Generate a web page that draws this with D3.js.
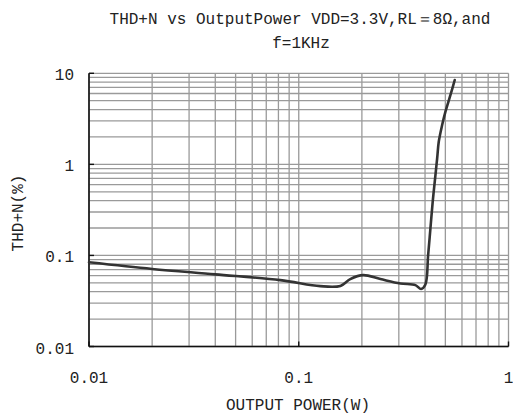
<!DOCTYPE html>
<html><head><meta charset="utf-8">
<script src="https://cdn.jsdelivr.net/npm/d3@7"></script>
<style>body{margin:0;background:#fff}svg{display:block}text{font-family:"Liberation Mono","DejaVu Sans Mono",monospace;fill:#222}</style>
</head><body>
<script>
const titleLines = ["THD+N vs OutputPower VDD=3.3V,RL＝8Ω,and", "f=1KHz"];
const xLabel = "OUTPUT POWER(W)";
const yLabel = "THD+N(%)";
const xTicks = [0.01, 0.1, 1];
const xTickLabels = ["0.01", "0.1", "1"];
const yTicks = [0.01, 0.1, 1, 10];
const yTickLabels = ["0.01", "0.1", "1", "10"];
const power = [0.01, 0.02, 0.04, 0.0816, 0.1266, 0.158, 0.176, 0.203, 0.245, 0.305, 0.36, 0.383, 0.4016, 0.4138, 0.4244, 0.4353, 0.4484, 0.4569, 0.465, 0.4826, 0.5005, 0.5288, 0.5542];
const thd   = [0.084, 0.071, 0.062, 0.0536, 0.046, 0.0463, 0.055, 0.0608, 0.055, 0.0492, 0.0472, 0.0428, 0.048, 0.1, 0.198, 0.392, 0.763, 1.16, 1.77, 2.70, 3.79, 5.78, 8.44];

const W = 513, H = 416;
const L = 89, R = 508.5, T = 73.3, B = 346.5;
const svg = d3.select("body").append("svg").attr("width", W).attr("height", H);
const x = d3.scaleLog().domain([0.01, 1]).range([L, R]);
const y = d3.scaleLog().domain([0.01, 10]).range([B, T]);

// grid
const xg = [], yg = [];
[0.01, 0.1].forEach(d => { for (let k = 1; k <= 9; k++) xg.push(d * k); });
xg.push(1);
[0.01, 0.1, 1].forEach(d => { for (let k = 1; k <= 9; k++) yg.push(d * k); });
yg.push(10);
const grid = svg.append("g").attr("stroke", "#9a9a9a").attr("stroke-width", 1.3);
grid.selectAll("line.h").data(yg).join("line").attr("class", "h")
  .attr("x1", L).attr("x2", R).attr("y1", d => y(d)).attr("y2", d => y(d));
grid.selectAll("line.v").data(xg).join("line").attr("class", "v")
  .attr("y1", T).attr("y2", B).attr("x1", d => x(d)).attr("x2", d => x(d));

// axes
svg.append("line").attr("x1", L).attr("x2", L).attr("y1", T).attr("y2", B).attr("stroke", "#111").attr("stroke-width", 1.6);
svg.append("line").attr("x1", L).attr("x2", R).attr("y1", B).attr("y2", B).attr("stroke", "#111").attr("stroke-width", 1.6);
svg.append("g").selectAll("line").data(yTicks).join("line")
  .attr("x1", L).attr("x2", L + 5).attr("y1", d => y(d)).attr("y2", d => y(d)).attr("stroke", "#111").attr("stroke-width", 1.4);
svg.append("g").selectAll("line").data(xTicks).join("line")
  .attr("x1", d => x(d)).attr("x2", d => x(d)).attr("y1", B).attr("y2", B - 5).attr("stroke", "#111").attr("stroke-width", 1.4);

// tick labels
svg.append("g").selectAll("text").data(yTicks).join("text")
  .attr("x", 74).attr("y", d => y(d) + 7).attr("text-anchor", "end").attr("font-size", 16)
  .text((d, i) => yTickLabels[i]);
svg.append("g").selectAll("text").data(xTicks).join("text")
  .attr("x", d => x(d)).attr("y", 383).attr("text-anchor", "middle").attr("font-size", 16)
  .text((d, i) => xTickLabels[i]);

// titles
svg.append("text").attr("x", 300).attr("y", 23.5).attr("text-anchor", "middle").attr("font-size", 16).text(titleLines[0]);
svg.append("text").attr("x", 301).attr("y", 48).attr("text-anchor", "middle").attr("font-size", 16).text(titleLines[1]);
svg.append("text").attr("x", 298).attr("y", 410).attr("text-anchor", "middle").attr("font-size", 16).text(xLabel);
svg.append("text").attr("transform", "translate(23,213) rotate(-90)").attr("text-anchor", "middle").attr("font-size", 16).text(yLabel);

// curve
const pts = power.map((p, i) => [p, thd[i]]);
svg.append("path").datum(pts)
  .attr("fill", "none").attr("stroke", "#333").attr("stroke-width", 2.6).attr("stroke-linejoin", "round").attr("stroke-linecap", "round")
  .attr("d", d3.line().x(d => x(d[0])).y(d => y(d[1])).curve(d3.curveCatmullRom.alpha(0.5)));
</script>
</body></html>
